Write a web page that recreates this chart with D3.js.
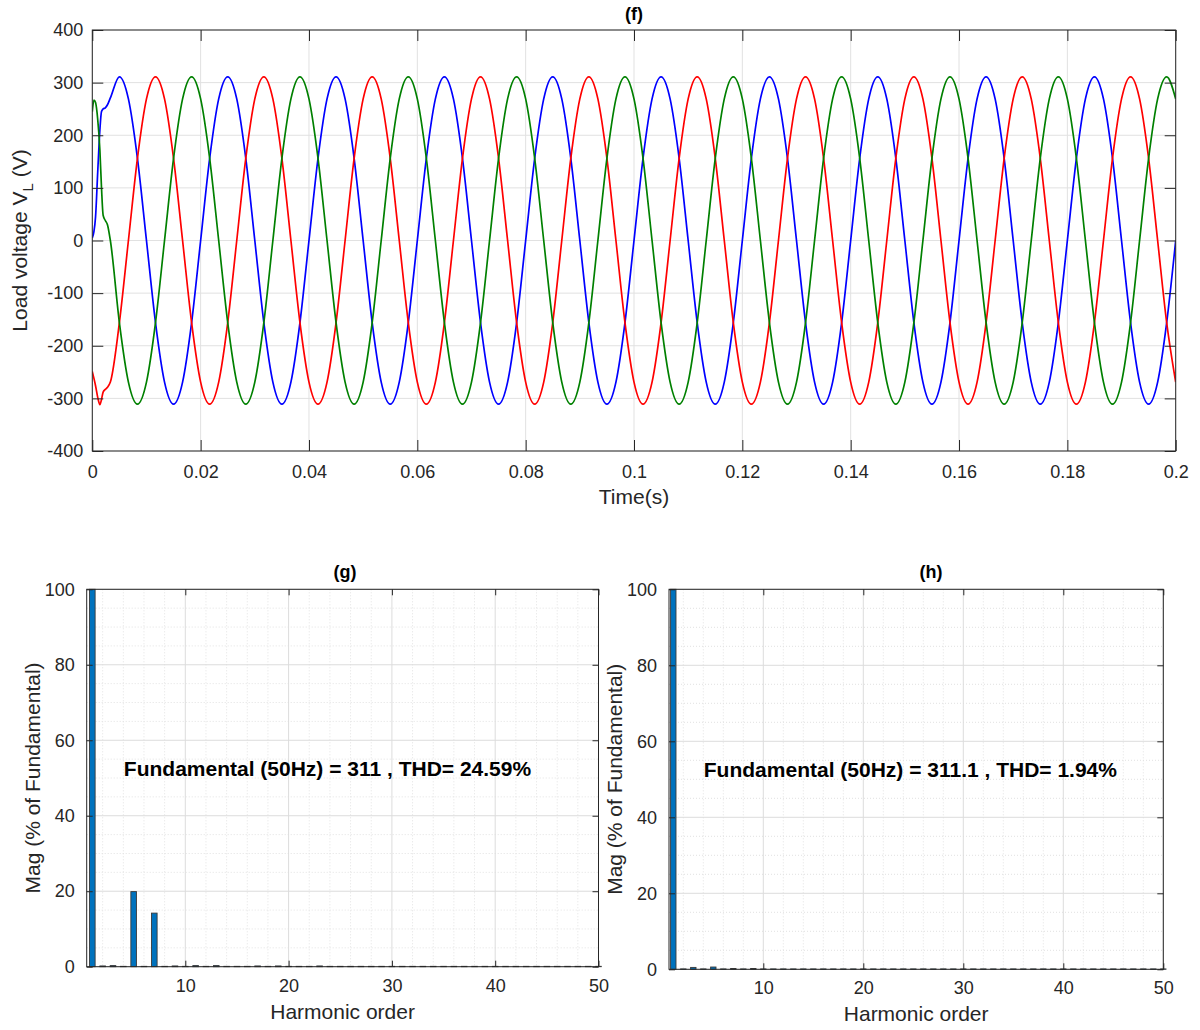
<!DOCTYPE html>
<html>
<head>
<meta charset="utf-8">
<script src="https://cdn.jsdelivr.net/npm/d3@7"></script>
<style>
  body { margin: 0; background: #fff; }
  svg { font-family: "Liberation Sans", Arial, sans-serif; }
  .axis path { display: none; }
  .axis line { stroke: #262626; }
  .axis text { fill: #262626; font-size: 18px; }
  .lbl { fill: #262626; font-size: 21px; text-anchor: middle; }
  .ttl { fill: #000; font-size: 18px; font-weight: bold; text-anchor: middle; }
</style>
</head>
<body>
<svg width="1200" height="1030"></svg>
<script>
// ---- waveform data, (f) ----
// start-up transient, first 3.3 ms
const startTime  = [0, 0.0003, 0.0006, 0.0010, 0.0014, 0.0017, 0.0020, 0.0024, 0.0028];
const blueStart  = [5, 17, 45, 130, 210, 245, 250, 252, 258];
const redStart   = [-249, -262, -276, -298, -312, -302, -288, -283, -279];
const greenStart = [245, 267, 262, 230, 172, 100, 48, 38, 30];

// steady state, one sample every 1/600 s from t = 0.00333 s to t = 0.2 s
const blueSteady = [
  271, 311, 269, 156, 0, -156, -269, -311, -269, -156, 0, 156,
  269, 311, 269, 156, 0, -156, -269, -311, -269, -156, 0, 156,
  269, 311, 269, 156, 0, -156, -269, -311, -269, -156, 0, 156,
  269, 311, 269, 156, 0, -156, -269, -311, -269, -156, 0, 156,
  269, 311, 269, 156, 0, -156, -269, -311, -269, -156, 0, 156,
  269, 311, 269, 156, 0, -156, -269, -311, -269, -156, 0, 156,
  269, 311, 269, 156, 0, -156, -269, -311, -269, -156, 0, 156,
  269, 311, 269, 156, 0, -156, -269, -311, -269, -156, 0, 156,
  269, 311, 269, 156, 0, -156, -269, -311, -269, -156, 0, 156,
  269, 311, 269, 156, 0, -156, -269, -311, -269, -156, 0
];
const redSteady = [
  -269, -156, 0, 156, 269, 311, 269, 156, 0, -156, -269, -311,
  -269, -156, 0, 156, 269, 311, 269, 156, 0, -156, -269, -311,
  -269, -156, 0, 156, 269, 311, 269, 156, 0, -156, -269, -311,
  -269, -156, 0, 156, 269, 311, 269, 156, 0, -156, -269, -311,
  -269, -156, 0, 156, 269, 311, 269, 156, 0, -156, -269, -311,
  -269, -156, 0, 156, 269, 311, 269, 156, 0, -156, -269, -311,
  -269, -156, 0, 156, 269, 311, 269, 156, 0, -156, -269, -311,
  -269, -156, 0, 156, 269, 311, 269, 156, 0, -156, -269, -311,
  -269, -156, 0, 156, 269, 311, 269, 156, 0, -156, -269, -311,
  -269, -156, 0, 156, 269, 311, 269, 156, 0, -156, -269
];
const greenSteady = [
  0, -156, -269, -311, -269, -156, 0, 156, 269, 311, 269, 156,
  0, -156, -269, -311, -269, -156, 0, 156, 269, 311, 269, 156,
  0, -156, -269, -311, -269, -156, 0, 156, 269, 311, 269, 156,
  0, -156, -269, -311, -269, -156, 0, 156, 269, 311, 269, 156,
  0, -156, -269, -311, -269, -156, 0, 156, 269, 311, 269, 156,
  0, -156, -269, -311, -269, -156, 0, 156, 269, 311, 269, 156,
  0, -156, -269, -311, -269, -156, 0, 156, 269, 311, 269, 156,
  0, -156, -269, -311, -269, -156, 0, 156, 269, 311, 269, 156,
  0, -156, -269, -311, -269, -156, 0, 156, 269, 311, 269, 156,
  0, -156, -269, -311, -269, -156, 0, 156, 269, 311, 269
];

const timeTicks  = [0, 0.02, 0.04, 0.06, 0.08, 0.1, 0.12, 0.14, 0.16, 0.18, 0.2];
const timeLabels = ["0", "0.02", "0.04", "0.06", "0.08", "0.1", "0.12", "0.14", "0.16", "0.18", "0.2"];
const voltTicks  = [-400, -300, -200, -100, 0, 100, 200, 300, 400];

// ---- harmonic spectra, (g) and (h), harmonics 1..50 in % of fundamental ----
const magG = [100, 0.2, 0.3, 0.1, 19.9, 0.1, 14.2, 0.1, 0.2, 0.1,
              0.3, 0.1, 0.3, 0.1, 0.1, 0.1, 0.2, 0.1, 0.2, 0.1,
              0.1, 0.1, 0.2, 0.1, 0.1, 0.1, 0.1, 0.1, 0.1, 0.1,
              0.1, 0.1, 0.1, 0.1, 0.1, 0.1, 0.1, 0.1, 0.1, 0.1,
              0.1, 0.1, 0.1, 0.1, 0.1, 0.1, 0.1, 0.1, 0.1, 0.1];
const magH = [100, 0.1, 0.5, 0.1, 0.6, 0.1, 0.2, 0.1, 0.2, 0.1,
              0.1, 0.1, 0.1, 0.1, 0.1, 0.1, 0.1, 0.1, 0.1, 0.1,
              0.1, 0.1, 0.1, 0.1, 0.1, 0.1, 0.1, 0.1, 0.1, 0.1,
              0.1, 0.1, 0.1, 0.1, 0.1, 0.1, 0.1, 0.1, 0.1, 0.1,
              0.1, 0.1, 0.1, 0.1, 0.1, 0.1, 0.1, 0.1, 0.1, 0.1];
const harmTicks = [10, 20, 30, 40, 50];
const magTicks  = [0, 20, 40, 60, 80, 100];
const textG = "Fundamental (50Hz) = 311 , THD= 24.59%";
const textH = "Fundamental (50Hz) = 311.1 , THD= 1.94%";

const svg = d3.select("svg");

// ================= (f) load voltage =================
const box = { left: 92.3, right: 1175.7, top: 30, bottom: 451 };
const xT = d3.scaleLinear().domain([0, 0.2]).range([box.left, box.right]);
const yT = d3.scaleLinear().domain([-400, 400]).range([box.bottom, box.top]);

svg.append("defs").append("clipPath").attr("id", "clipF")
  .append("rect")
  .attr("x", box.left).attr("y", box.top)
  .attr("width", box.right - box.left).attr("height", box.bottom - box.top);

let gF = svg.append("g");

// grid
gF.selectAll(".vg").data(timeTicks).enter().append("line")
  .attr("x1", d => xT(d)).attr("x2", d => xT(d))
  .attr("y1", box.top).attr("y2", box.bottom)
  .attr("stroke", "#e1e1e1");
gF.selectAll(".hg").data(voltTicks).enter().append("line")
  .attr("x1", box.left).attr("x2", box.right)
  .attr("y1", d => yT(d)).attr("y2", d => yT(d))
  .attr("stroke", "#e1e1e1");

const steadyTime = d3.range(2, 121).map(i => i / 600);
const line = d3.line()
  .x(d => xT(d[0]))
  .y(d => yT(d[1]))
  .curve(d3.curveMonotoneX);

const phases = [
  { start: blueStart, steady: blueSteady, color: "#0000ff" },
  { start: redStart, steady: redSteady, color: "#ff0000" },
  { start: greenStart, steady: greenSteady, color: "#008000" }
];

phases.forEach(function (p) {
  const pts = startTime.map((t, i) => [t, p.start[i]])
    .concat(steadyTime.map((t, i) => [t, p.steady[i]]));
  gF.append("path")
    .datum(pts)
    .attr("clip-path", "url(#clipF)")
    .attr("fill", "none")
    .attr("stroke", p.color)
    .attr("stroke-width", 1.7)
    .attr("d", line);
});

// axes (MATLAB style: inward ticks on all four sides)
gF.append("g").attr("class", "axis")
  .attr("transform", "translate(0," + box.bottom + ")")
  .call(d3.axisBottom(xT).tickValues(timeTicks)
    .tickFormat((d, i) => timeLabels[i])
    .tickSizeInner(-11).tickSizeOuter(0).tickPadding(14));
gF.append("g").attr("class", "axis")
  .attr("transform", "translate(0," + box.top + ")")
  .call(d3.axisTop(xT).tickValues(timeTicks).tickFormat("")
    .tickSizeInner(-11).tickSizeOuter(0));
gF.append("g").attr("class", "axis")
  .attr("transform", "translate(" + box.left + ",0)")
  .call(d3.axisLeft(yT).tickValues(voltTicks)
    .tickFormat(d => String(d))
    .tickSizeInner(-11).tickSizeOuter(0).tickPadding(9));
gF.append("g").attr("class", "axis")
  .attr("transform", "translate(" + box.right + ",0)")
  .call(d3.axisRight(yT).tickValues(voltTicks).tickFormat("")
    .tickSizeInner(-11).tickSizeOuter(0));

gF.append("rect")
  .attr("x", box.left).attr("y", box.top)
  .attr("width", box.right - box.left).attr("height", box.bottom - box.top)
  .attr("fill", "none").attr("stroke", "#262626");

gF.append("text").attr("class", "ttl")
  .attr("x", (box.left + box.right) / 2).attr("y", 20).text("(f)");
gF.append("text").attr("class", "lbl")
  .attr("x", (box.left + box.right) / 2).attr("y", 504).text("Time(s)");

let yl = gF.append("text").attr("class", "lbl")
  .attr("transform", "translate(27," + (box.top + box.bottom) / 2 + ") rotate(-90)");
yl.append("tspan").text("Load voltage V");
yl.append("tspan").attr("font-size", "15px").attr("dy", 6).text("L");
yl.append("tspan").attr("dy", -6).text(" (V)");

// ================= (g) and (h) spectra =================
function spectrum(id, b, xMin, mags, label, title, titleX, xPad) {
  const x = d3.scaleLinear().domain([xMin, 50]).range([b.left, b.right]);
  const y = d3.scaleLinear().domain([0, 100]).range([b.bottom, b.top]);
  const g = svg.append("g").attr("id", id);

  // minor grid (dotted)
  const minorX = d3.range(2, 50, 2).filter(d => d % 10 !== 0);
  const minorY = d3.range(5, 100, 5).filter(d => d % 20 !== 0);
  g.selectAll(".mx").data(minorX).enter().append("line")
    .attr("x1", d => x(d)).attr("x2", d => x(d))
    .attr("y1", b.top).attr("y2", b.bottom)
    .attr("stroke", "#e2e2e2").attr("stroke-dasharray", "1,2");
  g.selectAll(".my").data(minorY).enter().append("line")
    .attr("x1", b.left).attr("x2", b.right)
    .attr("y1", d => y(d)).attr("y2", d => y(d))
    .attr("stroke", "#e2e2e2").attr("stroke-dasharray", "1,2");
  // major grid
  g.selectAll(".gx").data(harmTicks).enter().append("line")
    .attr("x1", d => x(d)).attr("x2", d => x(d))
    .attr("y1", b.top).attr("y2", b.bottom)
    .attr("stroke", "#dcdcdc");
  g.selectAll(".gy").data(magTicks).enter().append("line")
    .attr("x1", b.left).attr("x2", b.right)
    .attr("y1", d => y(d)).attr("y2", d => y(d))
    .attr("stroke", "#dcdcdc");

  // bars
  const orders = d3.range(1, mags.length + 1);
  g.selectAll(".bar").data(orders).enter().append("rect")
    .attr("class", "bar")
    .attr("x", d => x(d - 0.27))
    .attr("width", x(0.54) - x(0))
    .attr("y", d => y(mags[d - 1]))
    .attr("height", d => y(0) - y(mags[d - 1]))
    .attr("fill", "#0072bd")
    .attr("stroke", "#3a3a3a")
    .attr("stroke-width", 0.9);

  // axes
  g.append("g").attr("class", "axis")
    .attr("transform", "translate(0," + b.bottom + ")")
    .call(d3.axisBottom(x).tickValues(harmTicks)
      .tickSizeInner(-6).tickSizeOuter(0).tickPadding(xPad));
  g.append("g").attr("class", "axis")
    .attr("transform", "translate(0," + b.top + ")")
    .call(d3.axisTop(x).tickValues(harmTicks).tickFormat("")
      .tickSizeInner(-6).tickSizeOuter(0));
  g.append("g").attr("class", "axis")
    .attr("transform", "translate(" + b.left + ",0)")
    .call(d3.axisLeft(y).tickValues(magTicks)
      .tickSizeInner(-6).tickSizeOuter(0).tickPadding(12));
  g.append("g").attr("class", "axis")
    .attr("transform", "translate(" + b.right + ",0)")
    .call(d3.axisRight(y).tickValues(magTicks).tickFormat("")
      .tickSizeInner(-6).tickSizeOuter(0));

  g.append("rect")
    .attr("x", b.left).attr("y", b.top)
    .attr("width", b.right - b.left).attr("height", b.bottom - b.top)
    .attr("fill", "none").attr("stroke", "#262626");

  g.append("text")
    .attr("x", x(4.05)).attr("y", y(50.5))
    .attr("font-size", "21px").attr("font-weight", "bold").attr("fill", "#000")
    .text(label);

  g.append("text").attr("class", "ttl")
    .attr("x", titleX).attr("y", 578).text(title);
  g.append("text").attr("class", "lbl")
    .attr("x", (b.left + b.right) / 2).attr("y", b.bottom + 52).text("Harmonic order");
  g.append("text").attr("class", "lbl")
    .attr("transform", "translate(" + (b.left - 47) + "," + (b.top + b.bottom) / 2 + ") rotate(-90)")
    .text("Mag (% of Fundamental)");
}

spectrum("g", { left: 86.7, right: 598.5, top: 589.3, bottom: 966.7 }, 0.455, magG, textG, "(g)", 345, 13);
spectrum("h", { left: 669, right: 1163.3, top: 589.3, bottom: 969.3 }, 0.57, magH, textH, "(h)", 931, 12);
</script>
</body>
</html>
